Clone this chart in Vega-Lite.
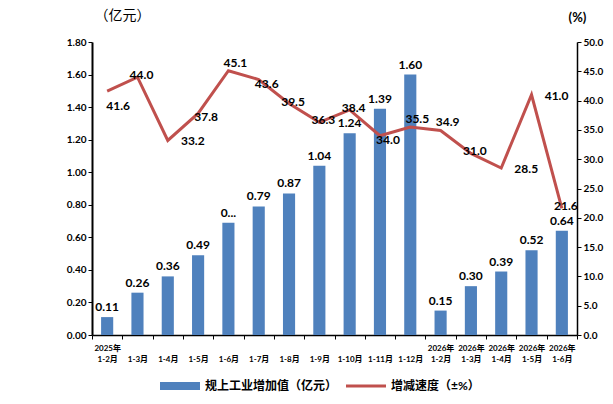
{
  "$schema": "https://vega.github.io/schema/vega-lite/v6.json",
  "autosize": {"type": "none"},
  "padding": {"left": 92, "top": 42, "right": 36, "bottom": 69},
  "width": 485,
  "height": 293,
  "background": "white",
  "data": {
    "values": [
      {"period": "2025年|1-2月", "value": 0.11, "label": "0.11", "rate": 41.6},
      {"period": "|1-3月", "value": 0.26, "label": "0.26", "rate": 44.0},
      {"period": "|1-4月", "value": 0.36, "label": "0.36", "rate": 33.2},
      {"period": "|1-5月", "value": 0.49, "label": "0.49", "rate": 37.8},
      {"period": "|1-6月", "value": 0.69, "label": "0...", "rate": 45.1},
      {"period": "|1-7月", "value": 0.79, "label": "0.79", "rate": 43.6},
      {"period": "|1-8月", "value": 0.87, "label": "0.87", "rate": 39.5},
      {"period": "|1-9月", "value": 1.04, "label": "1.04", "rate": 36.3},
      {"period": "|1-10月", "value": 1.24, "label": "1.24", "rate": 38.4},
      {"period": "|1-11月", "value": 1.39, "label": "1.39", "rate": 34.0},
      {"period": "|1-12月", "value": 1.60, "label": "1.60", "rate": 35.5},
      {"period": "2026年|1-2月", "value": 0.15, "label": "0.15", "rate": 34.9},
      {"period": "2026年|1-3月", "value": 0.30, "label": "0.30", "rate": 31.0},
      {"period": "2026年|1-4月", "value": 0.39, "label": "0.39", "rate": 28.5},
      {"period": "2026年|1-5月", "value": 0.52, "label": "0.52", "rate": 41.0},
      {"period": "2026年|1-6月", "value": 0.64, "label": "0.64", "rate": 21.6}
    ]
  },
  "encoding": {
    "x": {
      "field": "period",
      "type": "nominal",
      "sort": null,
      "scale": {"paddingInner": 0, "paddingOuter": 0},
      "axis": {
        "title": null,
        "labelAngle": 0,
        "labelExpr": "datum.value ? split(datum.value, '|') : ''",
        "labelFontSize": 8,
        "labelFontWeight": "bold",
        "labelLineHeight": 11,
        "labelPadding": 5,
        "tickBand": "extent",
        "tickSize": 4,
        "domainColor": "#000",
        "tickColor": "#000",
        "domainWidth": 1.5
      }
    }
  },
  "layer": [
    {
      "layer": [
        {
          "mark": {"type": "bar", "width": {"band": 0.4}},
          "encoding": {
            "y": {"field": "value", "type": "quantitative"},
            "color": {
              "datum": "规上工业增加值（亿元）",
              "scale": {"domain": ["规上工业增加值（亿元）", "增减速度（±%）"], "range": ["#4F81BD", "#C0504D"]},
              "legend": {
                "encode": {
                  "symbols": {
                    "update": {
                      "shape": {"signal": "datum.value == '规上工业增加值（亿元）' ? 'M-1,-0.2H1V0.2H-1Z' : 'M-1,-0.07H1V0.07H-1Z'"},
                      "fill": {"signal": "datum.value == '规上工业增加值（亿元）' ? '#4F81BD' : '#C0504D'"},
                      "stroke": {"value": null},
                      "strokeWidth": {"value": 0}
                    }
                  }
                }
              }
            }
          }
        },
        {
          "mark": {"type": "text", "dy": -10, "fontSize": 12, "fontWeight": "bold", "color": "#000"},
          "encoding": {
            "y": {"field": "value", "type": "quantitative"},
            "text": {"field": "label"}
          }
        }
      ],
      "encoding": {
        "y": {
          "scale": {"domain": [0, 1.8]},
          "axis": {
            "title": "（亿元）",
            "titleAngle": 0,
            "titleX": 30,
            "titleY": -20,
            "titleFontSize": 14,
            "titleFontWeight": "normal",
            "values": [0, 0.2, 0.4, 0.6, 0.8, 1.0, 1.2, 1.4, 1.6, 1.8],
            "format": ".2f",
            "grid": false,
            "labelFontSize": 10,
            "labelFontWeight": "bold",
            "domainColor": "#000",
            "domainWidth": 2,
            "tickColor": "#000",
            "tickSize": 4
          }
        }
      }
    },
    {
      "layer": [
        {
          "mark": {"type": "line", "strokeWidth": 3},
          "encoding": {
            "y": {"field": "rate", "type": "quantitative"},
            "color": {"datum": "增减速度（±%）"}
          }
        },
        {
          "transform": [{"filter": {"field": "rate", "oneOf": [44.0, 39.5, 36.3, 38.4, 21.6, 31.0]}}],
          "mark": {"type": "text", "dx": 4, "dy": -2, "fontSize": 12, "fontWeight": "bold", "color": "#000"},
          "encoding": {"y": {"field": "rate", "type": "quantitative"}, "text": {"field": "rate", "format": ".1f"}}
        },
        {
          "transform": [{"filter": {"field": "rate", "oneOf": [33.2, 28.5, 41.0]}}],
          "mark": {"type": "text", "dx": 25, "dy": 1, "fontSize": 12, "fontWeight": "bold", "color": "#000"},
          "encoding": {"y": {"field": "rate", "type": "quantitative"}, "text": {"field": "rate", "format": ".1f"}}
        },
        {
          "transform": [{"filter": {"field": "rate", "oneOf": [45.1, 35.5, 34.9]}}],
          "mark": {"type": "text", "dx": 7, "dy": -8, "fontSize": 12, "fontWeight": "bold", "color": "#000"},
          "encoding": {"y": {"field": "rate", "type": "quantitative"}, "text": {"field": "rate", "format": ".1f"}}
        },
        {
          "transform": [{"filter": {"field": "rate", "oneOf": [43.6, 34.0, 37.8]}}],
          "mark": {"type": "text", "dx": 8, "dy": 4, "fontSize": 12, "fontWeight": "bold", "color": "#000"},
          "encoding": {"y": {"field": "rate", "type": "quantitative"}, "text": {"field": "rate", "format": ".1f"}}
        },
        {
          "transform": [{"filter": {"field": "rate", "oneOf": [41.6]}}],
          "mark": {"type": "text", "dx": 11, "dy": 15, "fontSize": 12, "fontWeight": "bold", "color": "#000"},
          "encoding": {"y": {"field": "rate", "type": "quantitative"}, "text": {"field": "rate", "format": ".1f"}}
        }
      ],
      "encoding": {
        "y": {
          "scale": {"domain": [0, 50]},
          "axis": {
            "orient": "right",
            "title": "(%)",
            "titleAngle": 0,
            "titleX": 0,
            "titleY": -18,
            "titleAlign": "center",
            "titleFontSize": 13,
            "titleFontWeight": "bold",
            "values": [0, 5, 10, 15, 20, 25, 30, 35, 40, 45, 50],
            "format": ".1f",
            "grid": false,
            "labelFontSize": 10,
            "labelFontWeight": "bold",
            "domainColor": "#000",
            "domainWidth": 1.5,
            "tickColor": "#000",
            "tickSize": 4
          }
        }
      }
    }
  ],
  "resolve": {"scale": {"y": "independent"}},
  "config": {
    "font": "Lato, Noto Sans CJK SC",
    "view": {"stroke": null},
    "axis": {"labelColor": "#000", "titleColor": "#000"},
    "text": {"font": "Lato, Noto Sans CJK SC"},
    "legend": {
      "orient": "none",
      "legendX": 68,
      "legendY": 324,
      "direction": "horizontal",
      "title": null,
      "labelFontSize": 12,
      "labelFontWeight": "bold",
      "labelColor": "#000",
      "symbolSize": 1600,
      "columnPadding": 8,
      "labelOffset": 5
    }
  }
}
